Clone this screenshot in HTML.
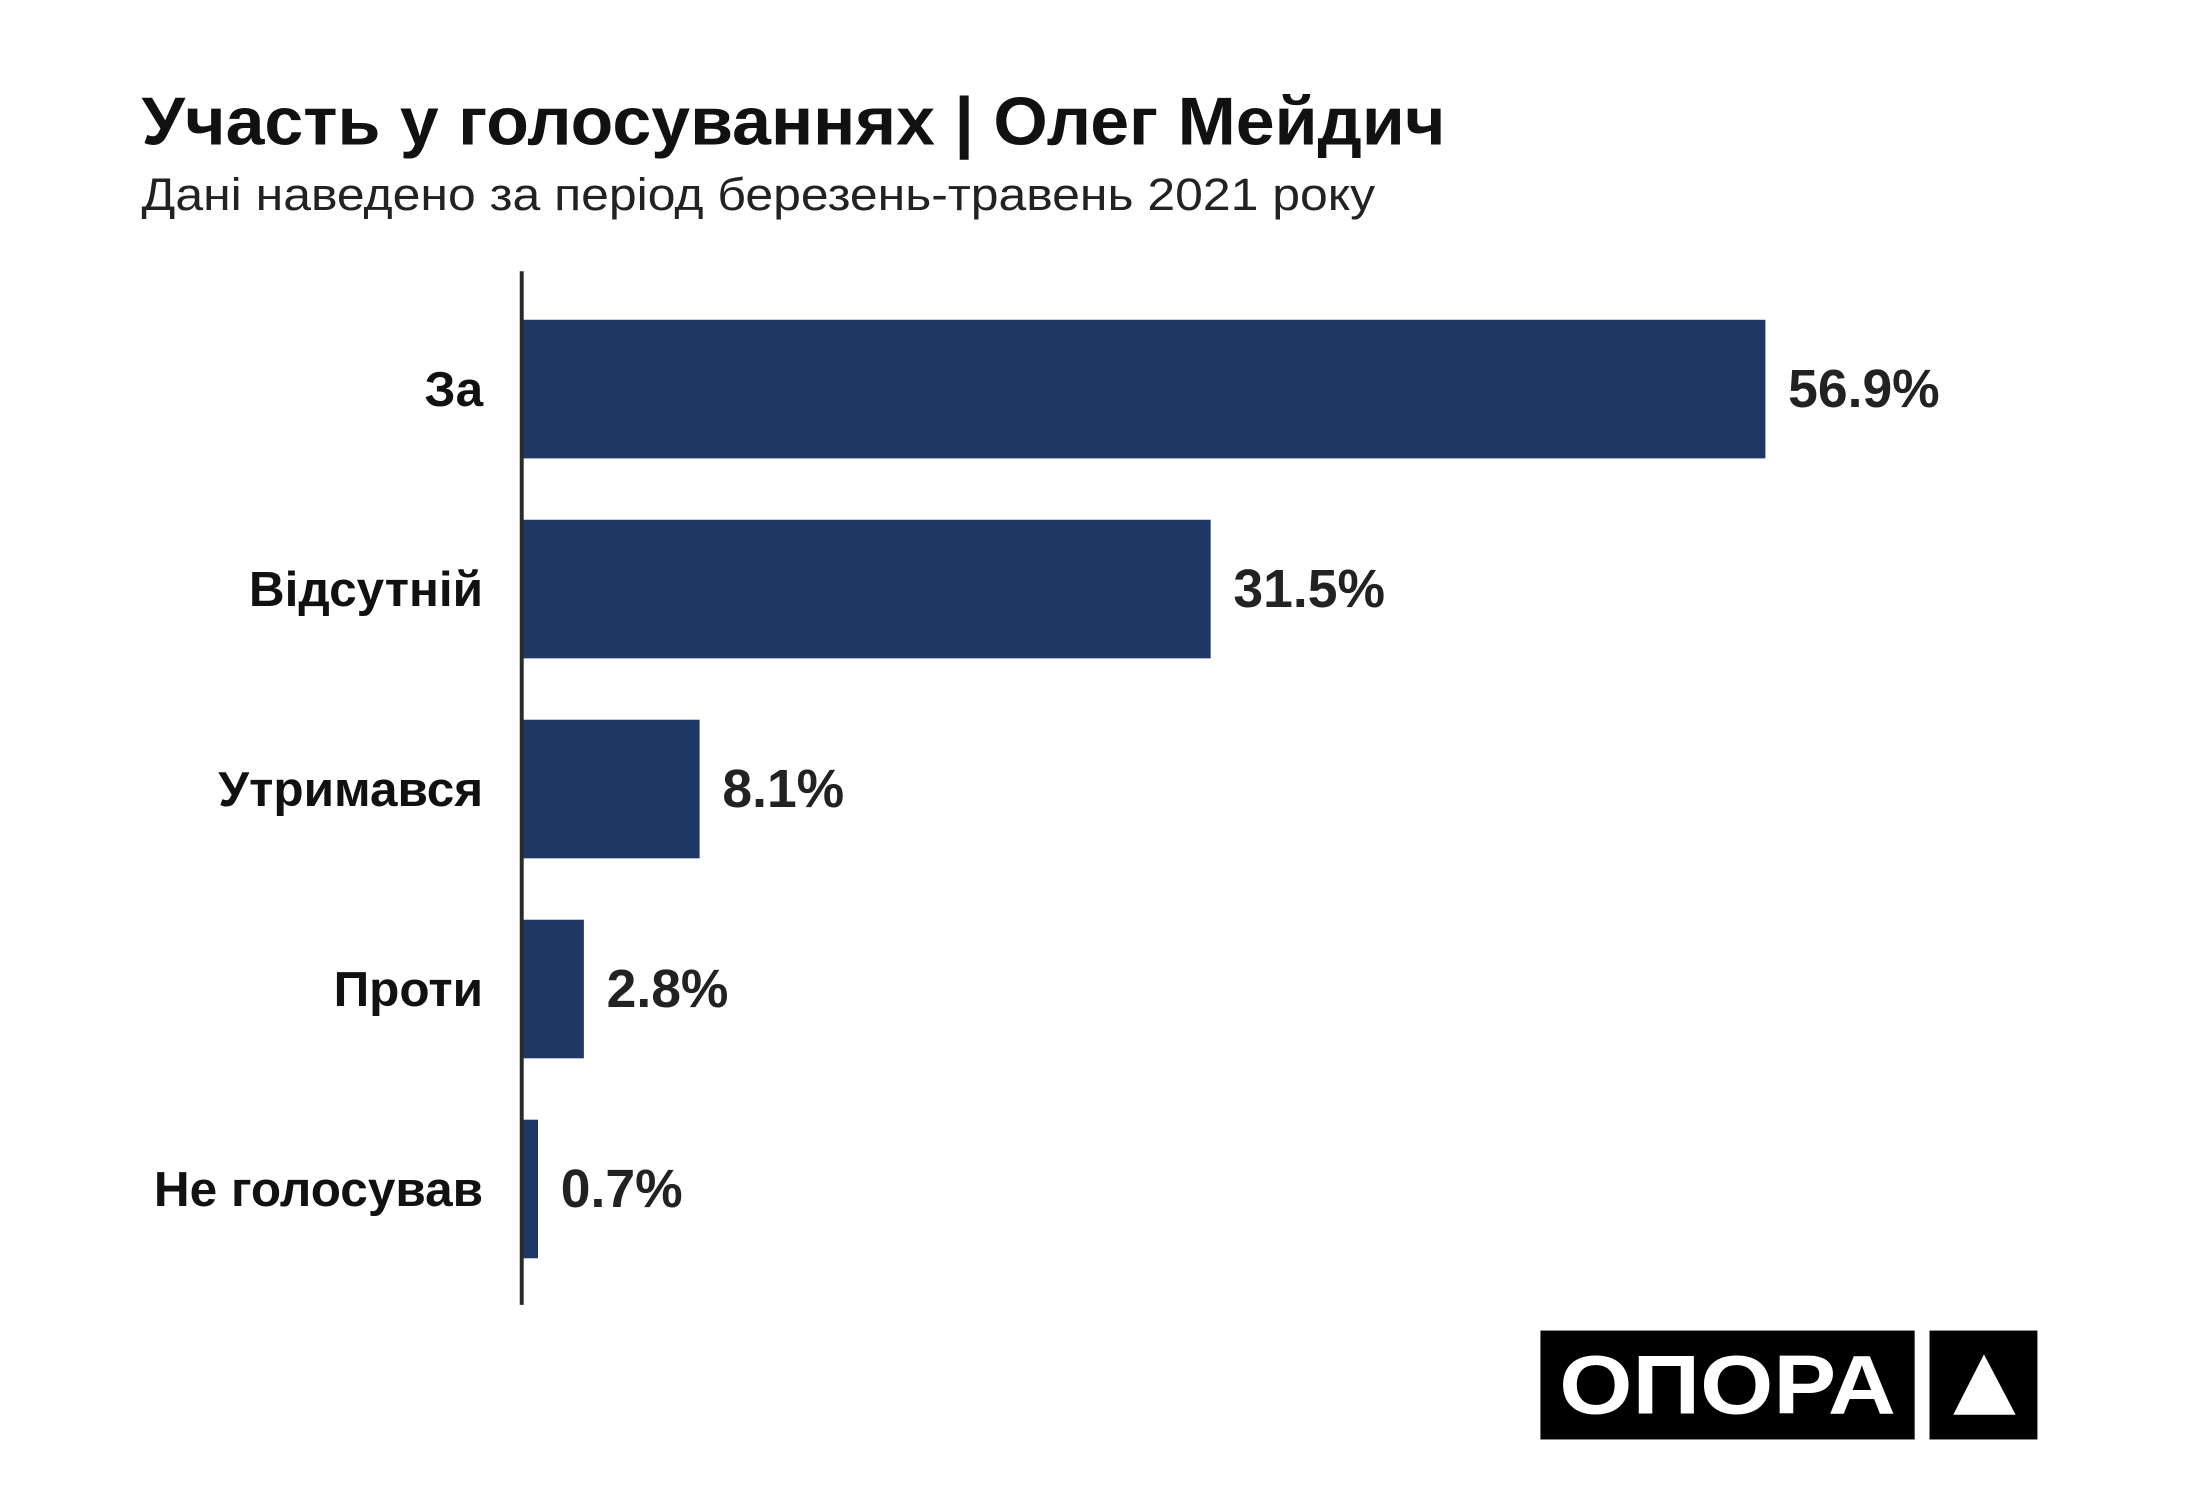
<!DOCTYPE html>
<html><head><meta charset="utf-8"><style>
body{margin:0;background:#fff;}
svg{display:block;font-family:"Liberation Sans","DejaVu Sans",sans-serif;}
</style></head><body>
<svg id="chart" width="2200" height="1500" viewBox="0 0 2200 1500">
<rect width="2200" height="1500" fill="#fff"/>
<g transform="scale(0.99)">
<text x="143" y="146" font-size="68" font-weight="bold" fill="#111" textLength="1317" lengthAdjust="spacingAndGlyphs">Участь у голосуваннях | Олег Мейдич</text>
<text x="143" y="212" font-size="46" fill="#222" textLength="1246" lengthAdjust="spacingAndGlyphs">Дані наведено за період березень-травень 2021 року</text>
<g id="bars"></g>
<line x1="527" y1="274" x2="527" y2="1318" stroke="#2a2a2a" stroke-width="4"/>
<g>
<rect x="1556" y="1344" width="378" height="110" fill="#000"/>
<text x="1745" y="1428" font-size="84" font-weight="bold" fill="#fff" text-anchor="middle" textLength="340" lengthAdjust="spacingAndGlyphs">ОПОРА</text>
<rect x="1949" y="1344" width="109" height="110" fill="#000"/>
<polygon points="2004,1368 1973,1429 2036,1429" fill="#fff"/>
</g>
</g>
</svg>
<script>
const categories = ["За","Відсутній","Утримався","Проти","Не голосував"];
const values = [56.9, 31.5, 8.1, 2.8, 0.7];
const valueLabels = ["56.9%","31.5%","8.1%","2.8%","0.7%"];
const x0 = 528, pxPerUnit = 22.06;
function xScale(v){ return x0 + v * pxPerUnit; }
function yScale(i){ return 323 + i * 202; }
const bandH = 140;
const NS = "http://www.w3.org/2000/svg";
const g = document.getElementById('bars');
categories.forEach((c, i) => {
  const y = yScale(i);
  const r = document.createElementNS(NS, 'rect');
  
  
  r.setAttribute('x', x0);
  r.setAttribute('y', y);
  r.setAttribute('width', xScale(values[i]) - x0);
  r.setAttribute('height', bandH);
  r.setAttribute('fill', '#1f3765');
  g.appendChild(r);
  const l = document.createElementNS(NS, 'text');
  
  
  l.setAttribute('x', 488);
  l.setAttribute('y', y + bandH / 2 + 17);
  l.setAttribute('text-anchor', 'end');
  l.setAttribute('font-size', '50');
  l.setAttribute('font-weight', 'bold');
  l.setAttribute('fill', '#111');
  l.textContent = c;
  g.appendChild(l);
  const v = document.createElementNS(NS, 'text');
  
  
  v.setAttribute('x', xScale(values[i]) + 23);
  v.setAttribute('y', y + bandH / 2 + 18);
  v.setAttribute('font-size', '54');
  v.setAttribute('font-weight', 'bold');
  v.setAttribute('fill', '#222');
  v.textContent = valueLabels[i];
  g.appendChild(v);
});
</script>
</body></html>
